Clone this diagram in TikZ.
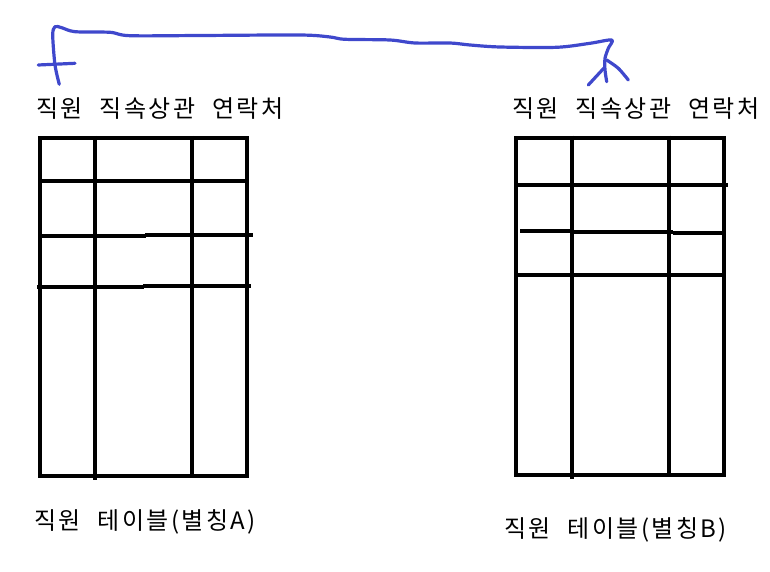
\documentclass[tikz,border=0pt]{standalone}
\usepackage{fontspec}
\usepackage{tikz}
\newfontfamily\krfont{Noto Sans CJK KR}[WordSpace=2.2, LetterSpace=10]
\definecolor{penblue}{RGB}{63,72,204}

\begin{document}
\begin{tikzpicture}[
   x=1pt, y=-1pt,
   lab/.style={font=\krfont\fontsize{24}{28}\selectfont, inner sep=0pt, anchor=west},
   tbl/.style={draw, line width=4pt, minimum width=207.6pt, minimum height=338pt,
      inner sep=0pt, outer sep=0pt},
   rule/.style={line width=4pt},
   pen/.style={penblue, line width=3.2pt, line cap=round, line join=round}
]
\useasboundingbox (0,0) rectangle (770,572);

\node[lab] (topA) at (36,108.5) {직원 직속상관 연락처};
\node[lab] (topB) at (512,108.5) {직원 직속상관 연락처};
\node[lab] (botA) at (34,521.7) {직원 테이블(별칭A)};
\node[lab] (botB) at (504,530) {직원 테이블(별칭B)};

\node[tbl] (tblA) at (143.5,307.3) {};
\draw[rule] (95.3,136) -- (95.3,480);
\draw[rule] (192.3,136) -- (192.3,476);
\draw[rule] (39.7,181) -- (247.3,181);
\draw[rule] (40,236.3) -- (145.7,236.3);
\draw[rule] (145,235) -- (253,235);
\draw[rule] (37,287.3) -- (143.7,287.3);
\draw[rule] (143,286.3) -- (251,286.3);

\node[tbl, minimum height=337.6pt] (tblB) at (620.2,306.5) {};
\draw[rule] (572.3,135.7) -- (572.3,479.3);
\draw[rule] (669.3,135.7) -- (669.3,475.3);
\draw[rule] (514,184.7) -- (728,184.7);
\draw[rule] (520,231.3) -- (572,231.3);
\draw[rule] (572,232.3) -- (673,232.3);
\draw[rule] (673,233.3) -- (724,233.3);
\draw[rule] (516,275.3) -- (724,275.3);

\coordinate (linkA) at (59.3,84.3);
\coordinate (linkB) at (606.7,81.7);
\draw[pen] plot[smooth, tension=0.5] coordinates {(linkA) (55,65) (52.7,35)
   (55,26.7) (61.7,27.7) (75,31.7) (110,32.3) (130,35.7) (200,35.5) (300,35)
   (330,37) (345,39.3) (390,40) (415,43) (450,43) (470,45) (500,47)
   (556.7,47.3) (590,43.3) (611.7,40) (608.3,48.3) (605,58.3) (605,70) (linkB)};
\draw[pen] (38.3,65) -- (75,63.3);
\draw[pen] (604,68) -- (588.3,85);
\draw[pen] plot[smooth, tension=0.5] coordinates {(606.7,60) (618.3,68.3) (628.3,80)};
\end{tikzpicture}
\end{document}
